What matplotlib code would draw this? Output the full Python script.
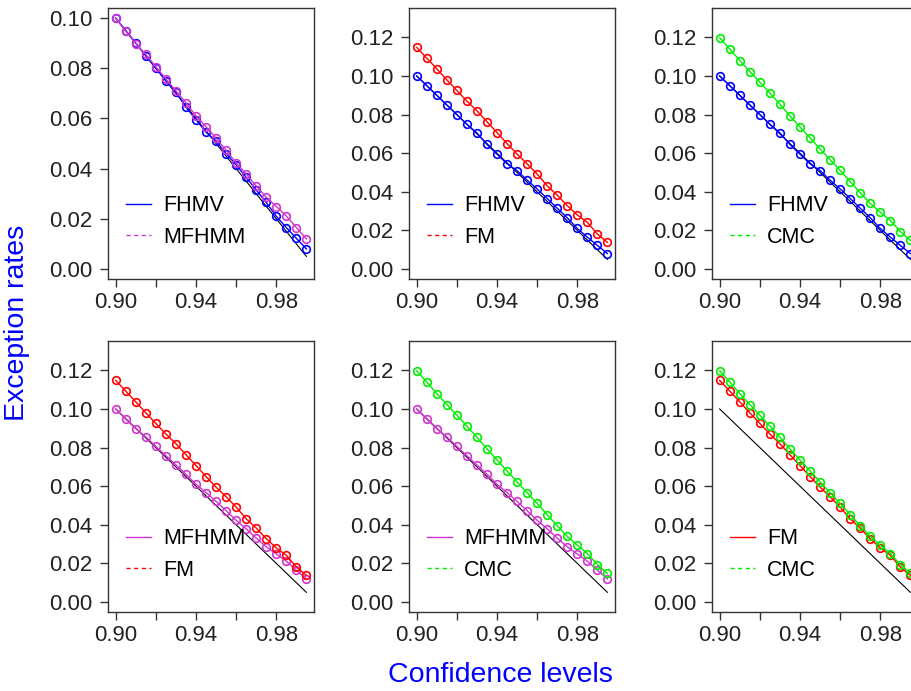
import numpy as np
from matplotlib import pyplot as plt

plt.rcParams['font.family'] = ['Liberation Sans', 'DejaVu Sans']

conf = [0.900, 0.905, 0.910, 0.915, 0.920, 0.925, 0.930, 0.935, 0.940, 0.945,
        0.950, 0.955, 0.960, 0.965, 0.970, 0.975, 0.980, 0.985, 0.990, 0.995]
nominal = [0.100, 0.095, 0.090, 0.085, 0.080, 0.075, 0.070, 0.065, 0.060, 0.055,
           0.050, 0.045, 0.040, 0.035, 0.030, 0.025, 0.020, 0.015, 0.010, 0.005]
fhmv = [0.100, 0.095, 0.090, 0.085, 0.080, 0.075, 0.0705, 0.0645, 0.0595, 0.0545,
        0.051, 0.046, 0.0415, 0.0365, 0.0315, 0.0265, 0.021, 0.0165, 0.0122, 0.008]
mfhmm = [0.100, 0.0948, 0.0898, 0.0855, 0.0806, 0.0758, 0.071, 0.0662, 0.061, 0.0567,
         0.0521, 0.0473, 0.0423, 0.0379, 0.0331, 0.0286, 0.0249, 0.0211, 0.0165, 0.012]
fm = [0.1148, 0.1093, 0.1037, 0.098, 0.0925, 0.087, 0.082, 0.0763, 0.0707, 0.065,
      0.0595, 0.0545, 0.0492, 0.0431, 0.0383, 0.0328, 0.028, 0.0242, 0.0181, 0.0138]
cmc = [0.1198, 0.114, 0.108, 0.1023, 0.0968, 0.0911, 0.0854, 0.0793, 0.0736, 0.0679,
       0.0622, 0.0566, 0.0511, 0.0452, 0.0395, 0.034, 0.0294, 0.0251, 0.0194, 0.0148]

series = {'FHMV': fhmv, 'MFHMM': mfhmm, 'FM': fm, 'CMC': cmc}
colors = {'FHMV': '#0000FF', 'MFHMM': '#D035D0', 'FM': '#FF0000', 'CMC': '#00EE00'}
pairs = [('FHMV', 'MFHMM'), ('FHMV', 'FM'), ('FHMV', 'CMC'),
         ('MFHMM', 'FM'), ('MFHMM', 'CMC'), ('FM', 'CMC')]

xticks = [0.90, 0.92, 0.94, 0.96, 0.98]
xlabels = ['0.90', '', '0.94', '', '0.98']

fig = plt.figure(figsize=(9.11, 6.91), dpi=100)
lefts = [0.1186, 0.4490, 0.7816]
bottoms = [0.5962, 0.1143]
w, h = 0.2261, 0.3922

for k, (a, b) in enumerate(pairs):
    r, c = divmod(k, 3)
    ax = fig.add_axes([lefts[c], bottoms[r], w, h])
    ax.plot(conf, nominal, color='black', lw=0.8)
    for name in (a, b):
        ax.plot(conf, series[name], color=colors[name], lw=1.0, marker='o',
                ms=5.5, mfc='none', mew=1.2)
    # legend entries: solid then dashed, lines only
    h1, = ax.plot([], [], color=colors[a], lw=1.0, ls='-')
    h2, = ax.plot([], [], color=colors[b], lw=1.0, ls=(0, (3, 2.5)))
    ax.legend([h1, h2], [a, b], loc='lower left', bbox_to_anchor=(0.085, 0.115),
              frameon=False, fontsize=15.5, handlelength=1.2, handletextpad=0.55,
              labelspacing=0.5, borderaxespad=0.0, borderpad=0.0)
    ax.set_xlim(0.8962, 0.9988)
    if k == 0:
        ax.set_ylim(-0.004, 0.104)
        ax.set_yticks([0.00, 0.02, 0.04, 0.06, 0.08, 0.10])
    else:
        ax.set_ylim(-0.0052, 0.1352)
        ax.set_yticks([0.00, 0.02, 0.04, 0.06, 0.08, 0.10, 0.12])
    ax.set_yticklabels([f'{t:.2f}' for t in ax.get_yticks()])
    ax.set_xticks(xticks)
    ax.set_xticklabels(xlabels)
    ax.tick_params(labelsize=16, length=6, width=1, color='#333333',
                   labelcolor='#222222')
    ax.tick_params(axis='y', pad=5)
    ax.tick_params(axis='x', pad=3)
    for s in ax.spines.values():
        s.set_color('#333333')
        s.set_linewidth(1)

fig.text(0.549, 0.004, 'Confidence levels', color='#0000FF', fontsize=20.5,
         ha='center', va='bottom')
fig.text(0.004, 0.533, 'Exception rates', color='#0000FF', fontsize=20.5,
         ha='left', va='center', rotation=90)

fig.savefig('out.png', dpi=100)
